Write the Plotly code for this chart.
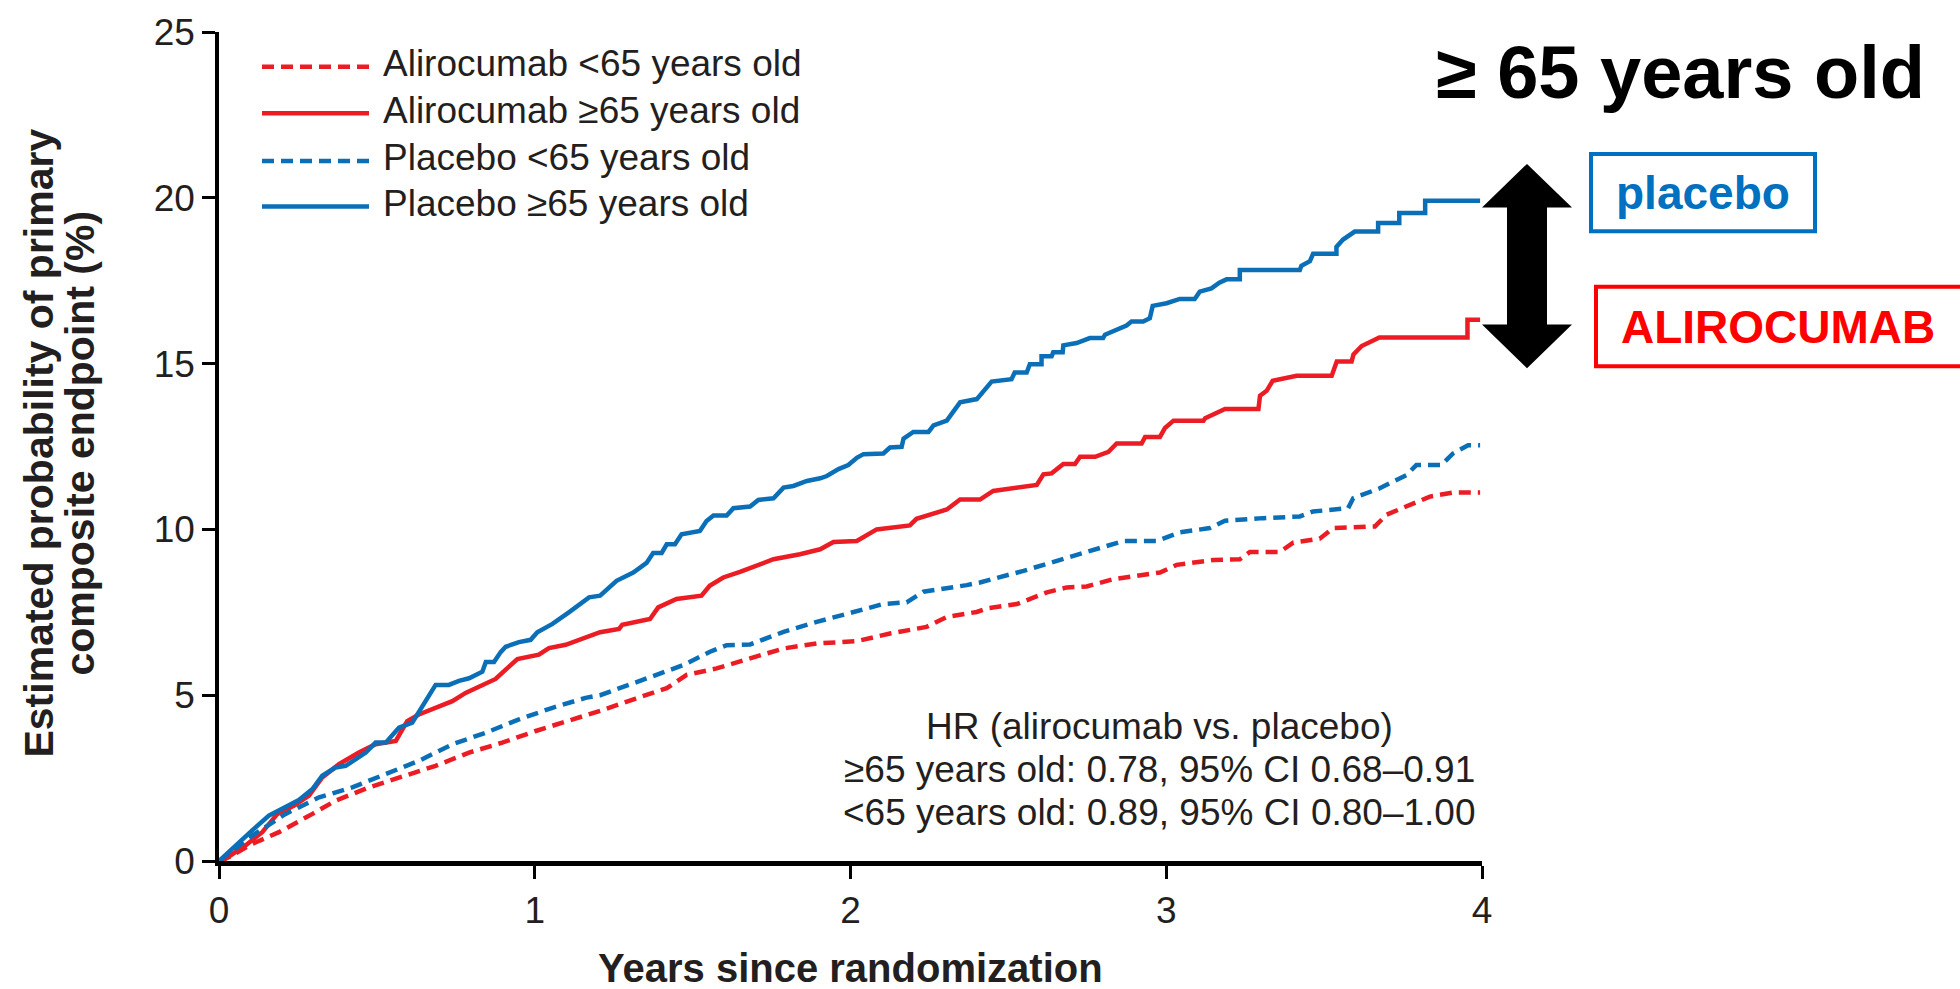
import plotly.graph_objects as go

# ---------------- data ----------------
years_ticks = [0, 1, 2, 3, 4]
y_ticks = [0, 5, 10, 15, 20, 25]

placebo_ge65 = [
    (0, 0), (0.063, 0.58), (0.106, 0.93), (0.158, 1.37), (0.211, 1.62), (0.253, 1.84),
    (0.296, 2.17), (0.327, 2.57), (0.369, 2.82), (0.401, 2.87), (0.465, 3.27), (0.496, 3.57),
    (0.528, 3.57), (0.57, 4.02), (0.612, 4.17), (0.655, 4.81), (0.686, 5.31), (0.728, 5.31),
    (0.76, 5.43), (0.792, 5.51), (0.834, 5.71), (0.845, 6.0), (0.871, 6.0), (0.892, 6.3),
    (0.908, 6.46), (0.95, 6.6), (0.987, 6.67), (1.008, 6.9), (1.056, 7.15), (1.108, 7.5),
    (1.172, 7.95), (1.207, 8.0), (1.259, 8.45), (1.312, 8.7), (1.354, 8.99), (1.375, 9.29),
    (1.402, 9.29), (1.418, 9.55), (1.444, 9.55), (1.465, 9.85), (1.523, 9.95), (1.544, 10.25),
    (1.566, 10.42), (1.608, 10.42), (1.629, 10.64), (1.682, 10.69), (1.708, 10.89), (1.756, 10.94),
    (1.788, 11.26), (1.819, 11.31), (1.862, 11.46), (1.904, 11.54), (1.925, 11.61), (1.962, 11.82),
    (1.993, 11.94), (2.02, 12.16), (2.041, 12.27), (2.104, 12.29), (2.125, 12.47), (2.162, 12.49),
    (2.168, 12.74), (2.199, 12.94), (2.247, 12.94), (2.263, 13.14), (2.305, 13.28), (2.347, 13.83),
    (2.4, 13.93), (2.447, 14.46), (2.51, 14.53), (2.52, 14.73), (2.558, 14.73), (2.568, 14.98),
    (2.605, 14.98), (2.605, 15.22), (2.637, 15.22), (2.642, 15.34), (2.672, 15.34), (2.674, 15.55),
    (2.716, 15.62), (2.758, 15.77), (2.8, 15.77), (2.806, 15.87), (2.832, 15.99), (2.874, 16.15),
    (2.89, 16.27), (2.927, 16.27), (2.948, 16.37), (2.957, 16.74), (3.001, 16.82), (3.043, 16.95),
    (3.09, 16.95), (3.106, 17.17), (3.143, 17.27), (3.168, 17.44), (3.191, 17.54), (3.233, 17.54),
    (3.233, 17.82), (3.423, 17.82), (3.428, 17.95), (3.455, 18.09), (3.465, 18.31), (3.539, 18.31),
    (3.539, 18.52), (3.56, 18.74), (3.597, 18.98), (3.671, 18.98), (3.671, 19.24), (3.738, 19.24),
    (3.738, 19.54), (3.82, 19.54), (3.82, 19.91), (3.994, 19.91),
]

alirocumab_ge65 = [
    (0, 0), (0.021, 0.07), (0.084, 0.47), (0.137, 0.87), (0.185, 1.42), (0.238, 1.67),
    (0.285, 1.97), (0.327, 2.52), (0.38, 2.92), (0.443, 3.27), (0.496, 3.52), (0.56, 3.62),
    (0.575, 3.87), (0.596, 4.22), (0.633, 4.42), (0.686, 4.62), (0.739, 4.82), (0.781, 5.07),
    (0.834, 5.29), (0.876, 5.49), (0.908, 5.77), (0.945, 6.09), (1.013, 6.22), (1.045, 6.42),
    (1.098, 6.52), (1.151, 6.72), (1.207, 6.9), (1.267, 7.0), (1.277, 7.12), (1.365, 7.3),
    (1.391, 7.65), (1.449, 7.9), (1.528, 8.0), (1.554, 8.3), (1.597, 8.55), (1.65, 8.72),
    (1.756, 9.1), (1.84, 9.25), (1.904, 9.4), (1.946, 9.62), (2.02, 9.65), (2.083, 10.0),
    (2.125, 10.05), (2.188, 10.12), (2.209, 10.32), (2.305, 10.6), (2.347, 10.9), (2.41, 10.9),
    (2.452, 11.16), (2.516, 11.24), (2.59, 11.34), (2.611, 11.66), (2.637, 11.69), (2.674, 11.97),
    (2.711, 11.97), (2.727, 12.19), (2.775, 12.19), (2.817, 12.34), (2.843, 12.59), (2.922, 12.59),
    (2.933, 12.79), (2.98, 12.79), (2.996, 13.06), (3.023, 13.28), (3.118, 13.28), (3.123, 13.35),
    (3.16, 13.5), (3.186, 13.63), (3.292, 13.63), (3.297, 14.03), (3.318, 14.18), (3.337, 14.48),
    (3.413, 14.63), (3.524, 14.63), (3.54, 15.06), (3.587, 15.06), (3.593, 15.28), (3.619, 15.53),
    (3.675, 15.79), (3.954, 15.79), (3.954, 16.32), (3.994, 16.32),
]

placebo_lt65 = [
    (0, 0), (0.106, 0.77), (0.211, 1.42), (0.317, 1.92), (0.422, 2.22), (0.528, 2.62),
    (0.633, 3.02), (0.739, 3.52), (0.845, 3.87), (0.95, 4.27), (1.056, 4.62), (1.161, 4.92),
    (1.207, 5.0), (1.312, 5.36), (1.418, 5.73), (1.471, 5.91), (1.555, 6.31), (1.608, 6.51),
    (1.682, 6.53), (1.788, 6.91), (1.893, 7.21), (1.967, 7.4), (2.104, 7.75), (2.178, 7.8),
    (2.231, 8.12), (2.368, 8.32), (2.41, 8.4), (2.548, 8.75), (2.674, 9.1), (2.811, 9.5),
    (2.864, 9.65), (2.97, 9.65), (3.043, 9.91), (3.138, 10.04), (3.186, 10.26), (3.307, 10.34),
    (3.423, 10.39), (3.465, 10.54), (3.576, 10.64), (3.592, 10.94), (3.676, 11.24), (3.761, 11.64),
    (3.792, 11.94), (3.871, 11.94), (3.908, 12.29), (3.956, 12.54), (3.994, 12.54),
]

alirocumab_lt65 = [
    (0, 0), (0.032, 0.12), (0.106, 0.52), (0.19, 0.87), (0.296, 1.42), (0.369, 1.82),
    (0.475, 2.22), (0.581, 2.54), (0.686, 2.87), (0.792, 3.27), (0.897, 3.57), (1.003, 3.92),
    (1.108, 4.22), (1.214, 4.55), (1.32, 4.9), (1.418, 5.21), (1.481, 5.61), (1.576, 5.81),
    (1.682, 6.11), (1.788, 6.41), (1.893, 6.56), (2.02, 6.63), (2.125, 6.86), (2.241, 7.06),
    (2.305, 7.36), (2.4, 7.51), (2.432, 7.62), (2.527, 7.75), (2.622, 8.1), (2.685, 8.25),
    (2.748, 8.28), (2.832, 8.5), (2.98, 8.7), (3.033, 8.93), (3.149, 9.08), (3.233, 9.1),
    (3.265, 9.32), (3.36, 9.32), (3.402, 9.6), (3.486, 9.72), (3.529, 10.04), (3.661, 10.09),
    (3.697, 10.44), (3.75, 10.64), (3.803, 10.84), (3.835, 10.99), (3.908, 11.11), (3.994, 11.11),
]

legend_labels = ["Alirocumab <65 years old", "Alirocumab ≥65 years old",
                 "Placebo <65 years old", "Placebo ≥65 years old"]
hr_lines = ["HR (alirocumab vs. placebo)",
            "≥65 years old: 0.78, 95% CI 0.68–0.91",
            "<65 years old: 0.89, 95% CI 0.80–1.00"]

# ---------------- styling ----------------
RED = "#EC1C24"
BLUE = "#0B6FB8"
TXT = "#231F20"
FONT = "Liberation Sans, Arial, sans-serif"
DASH = "12px,7px"

W, H = 1960, 989
L, R, T, B = 219, 1482, 25, 861


def px(x):
    return (x - L) / (R - L)


def py(y):
    return (B - y) / (B - T)


series = [
    (legend_labels[0], alirocumab_lt65, RED, DASH),
    (legend_labels[1], alirocumab_ge65, RED, "solid"),
    (legend_labels[2], placebo_lt65, BLUE, DASH),
    (legend_labels[3], placebo_ge65, BLUE, "solid"),
]

fig = go.Figure()
for name, data, color, dash in series:
    fig.add_trace(go.Scatter(
        x=[p[0] for p in data], y=[p[1] for p in data], mode="lines", name=name,
        line=dict(color=color, width=4.5, dash=dash), showlegend=False, cliponaxis=False,
    ))

shapes = []
annotations = []

# manual legend
legend_rows = [60, 107, 155, 201]
for (name, data, color, dash), yy in zip(series, legend_rows):
    shapes.append(dict(type="line", xref="paper", yref="paper",
                       x0=px(262), x1=px(369), y0=py(yy), y1=py(yy),
                       line=dict(color=color, width=4.5, dash=dash)))
    annotations.append(dict(xref="paper", yref="paper", x=px(381), y=py(yy - 3),
                            xanchor="left", yanchor="middle", showarrow=False,
                            text=name, font=dict(family=FONT, size=37, color=TXT)))

# HR text
for line, yy in zip(hr_lines, [725, 769, 812]):
    annotations.append(dict(xref="paper", yref="paper", x=px(1159), y=py(yy),
                            xanchor="center", yanchor="middle", showarrow=False,
                            text=line, font=dict(family=FONT, size=37, color=TXT)))

# axis titles
annotations.append(dict(xref="paper", yref="paper", x=px(850), y=py(969),
                        xanchor="center", yanchor="middle", showarrow=False,
                        text="<b>Years since randomization</b>",
                        font=dict(family=FONT, size=40, color=TXT)))
annotations.append(dict(xref="paper", yref="paper", x=px(39), y=py(440),
                        xanchor="center", yanchor="middle", showarrow=False, textangle=-90,
                        text="<b>Estimated probability of primary</b>",
                        font=dict(family=FONT, size=41, color=TXT)))
annotations.append(dict(xref="paper", yref="paper", x=px(80), y=py(440),
                        xanchor="center", yanchor="middle", showarrow=False, textangle=-90,
                        text="<b>composite endpoint (%)</b>",
                        font=dict(family=FONT, size=41, color=TXT)))

# right-side call-outs
annotations.append(dict(xref="paper", yref="paper", x=px(1680), y=py(66),
                        xanchor="center", yanchor="middle", showarrow=False,
                        text="<b>≥ 65 years old</b>",
                        font=dict(family=FONT, size=74, color="#000000")))
shapes.append(dict(type="rect", xref="paper", yref="paper",
                   x0=px(1591), x1=px(1815), y0=py(226), y1=py(148),
                   line=dict(color="#0070C0", width=4)))
annotations.append(dict(xref="paper", yref="paper", x=px(1703), y=py(187),
                        xanchor="center", yanchor="middle", showarrow=False,
                        text="<b>placebo</b>", font=dict(family=FONT, size=46, color="#0070C0")))
shapes.append(dict(type="rect", xref="paper", yref="paper",
                   x0=px(1596), x1=px(1985), y0=py(362), y1=py(282),
                   line=dict(color="#FF0000", width=4)))
annotations.append(dict(xref="paper", yref="paper", x=px(1778), y=py(322),
                        xanchor="center", yanchor="middle", showarrow=False,
                        text="<b>ALIROCUMAB</b>", font=dict(family=FONT, size=46, color="#FF0000")))

# double-headed arrow
cx, hw, sw = 1527, 45, 20
top, bot, hb_top, hb_bot = 158, 364, 202, 320
pts = [(cx, top), (cx + hw, hb_top), (cx + sw, hb_top), (cx + sw, hb_bot), (cx + hw, hb_bot),
       (cx, bot), (cx - hw, hb_bot), (cx - sw, hb_bot), (cx - sw, hb_top), (cx - hw, hb_top)]
path = "M " + " L ".join(f"{px(a):.5f},{py(b):.5f}" for a, b in pts) + " Z"
shapes.append(dict(type="path", xref="paper", yref="paper", path=path,
                   fillcolor="#000000", line=dict(width=0)))

fig.update_layout(
    width=W, height=H,
    margin=dict(l=L, r=W - R, t=T, b=H - B, pad=0),
    plot_bgcolor="white", paper_bgcolor="white",
    showlegend=False,
    shapes=shapes, annotations=annotations,
    xaxis=dict(range=[0, 4], tickvals=years_ticks, ticktext=[str(v) for v in years_ticks],
               ticks="outside", ticklen=13, tickwidth=2.5, tickcolor="#000000",
               showline=True, linewidth=5, linecolor="#000000",
               showgrid=False, zeroline=False,
               tickfont=dict(family=FONT, size=37, color=TXT)),
    yaxis=dict(range=[0, 25], tickvals=y_ticks, ticktext=[str(v) for v in y_ticks],
               ticks="outside", ticklen=13, tickwidth=2.5, tickcolor="#000000",
               showline=True, linewidth=3.5, linecolor="#000000",
               showgrid=False, zeroline=False,
               tickfont=dict(family=FONT, size=37, color=TXT)),
)

fig.write_html("out.html")
